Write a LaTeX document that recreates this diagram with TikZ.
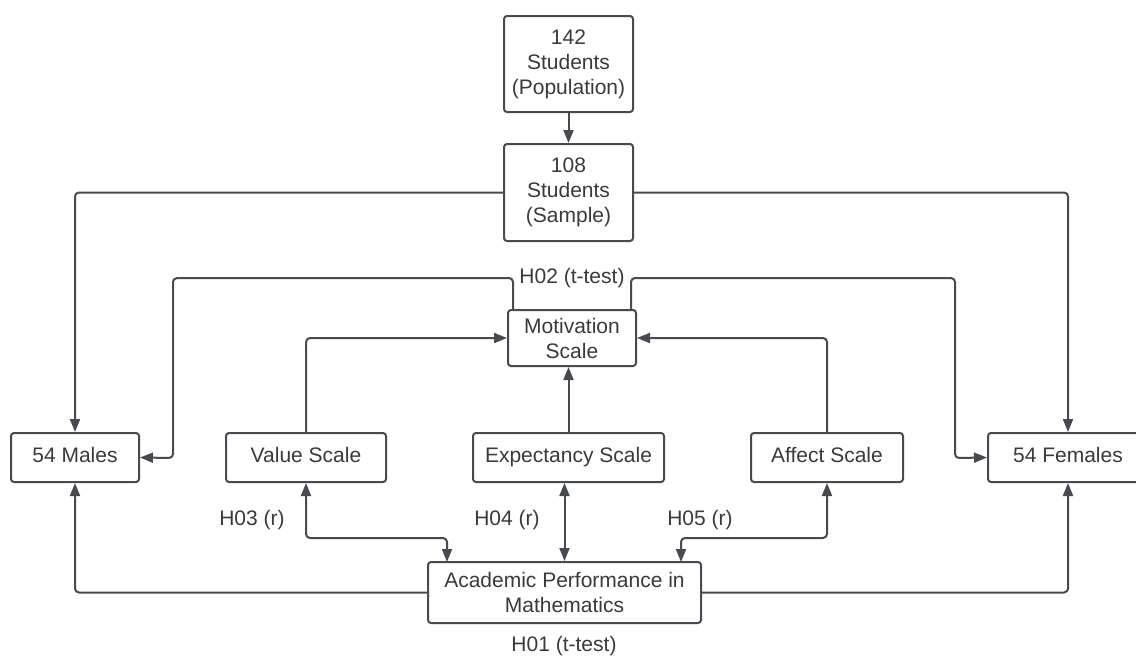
\documentclass[tikz,border=0pt]{standalone}
\usepackage{fontspec}
\setmainfont{Liberation Sans}
\usetikzlibrary{arrows.meta}
\definecolor{lnc}{HTML}{474A50}
\definecolor{txc}{HTML}{3A3A3A}
\begin{document}
\begin{tikzpicture}[x=1pt,y=-1pt,
  box/.style={draw=lnc, line width=2pt, rounded corners=3pt, fill=white,
    text=txc, font=\fontsize{21}{25}\selectfont, align=center, inner sep=0pt},
  one/.style={text height=15pt, text depth=5pt},
  conn/.style={draw=lnc, line width=2pt, rounded corners=4pt,
    -{Triangle[length=13pt,width=10pt]}},
  both/.style={conn, {Triangle[length=13pt,width=10pt]}-{Triangle[length=13pt,width=10pt]}},
  lbl/.style={text=txc, font=\fontsize{21}{25}\selectfont, inner sep=0pt}]
\useasboundingbox (0,0) rectangle (1136,656);
\fill[white] (0,0) rectangle (1136,656);
\clip (0,0) rectangle (1136,656);

\node[box, minimum width=129pt, minimum height=96pt] (pop) at (568.5,64) {142\\Students\\(Population)};
\node[box, minimum width=129pt, minimum height=97pt] (samp) at (568.5,192.5) {108\\Students\\(Sample)};
\node[box, minimum width=128pt, minimum height=56pt] (mot) at (572,338) {Motivation\\Scale};
\node[box, one, minimum width=128pt, minimum height=49pt] (males) at (75,457.5) {54 Males};
\node[box, one, minimum width=160pt, minimum height=49pt] (value) at (306,457.5) {Value Scale};
\node[box, one, minimum width=191pt, minimum height=49pt] (expect) at (568.5,457.5) {Expectancy Scale};
\node[box, one, minimum width=152pt, minimum height=49pt] (affect) at (827,457.5) {Affect Scale};
\node[box, one, minimum width=160pt, minimum height=49pt] (females) at (1068,457.5) {54 Females};
\node[box, minimum width=273pt, minimum height=61pt] (acad) at (564.5,592.5) {Academic Performance in\\Mathematics};

\node[lbl] (h02) at (572,278) {H02 (t-test)};
\node[lbl] (h03) at (252,520) {H03 (r)};
\node[lbl] (h04) at (507,520) {H04 (r)};
\node[lbl] (h05) at (700,520) {H05 (r)};
\node[lbl] (h01) at (564,646) {H01 (t-test)};

\coordinate (mtl) at (513,310);
\coordinate (mtr) at (631,310);

% population to sample
\draw[conn] (pop.south) -- (samp.north);
% sample to males / females
\draw[conn] (samp.west) -| (males.north);
\draw[conn] (samp.east) -| (females.north);
% H02 lines
\draw[conn] (mtl) -- (513,278) -- (173,278) -- (173,458) -- (males.east);
\draw[conn] (mtr) -- (631,278) -- (955,278) -- (955,458) -- (females.west);
% scales to motivation
\draw[conn] (value.north) |- (mot.west);
\draw[conn] (affect.north) |- (mot.east);
\draw[conn] (expect.north) -- (expect.north |- mot.south);
% scales <-> academic
\draw[both] (value.south) -- (306,538) -- (447,538) -- (447,562);
\draw[both] (acad.north) -- (acad.north |- expect.south);
\draw[both] (affect.south) -- (827,538) -- (681,538) -- (681,562);
% academic to males / females
\draw[conn] (acad.west) -| (males.south);
\draw[conn] (acad.east) -| (females.south);
\end{tikzpicture}
\end{document}
